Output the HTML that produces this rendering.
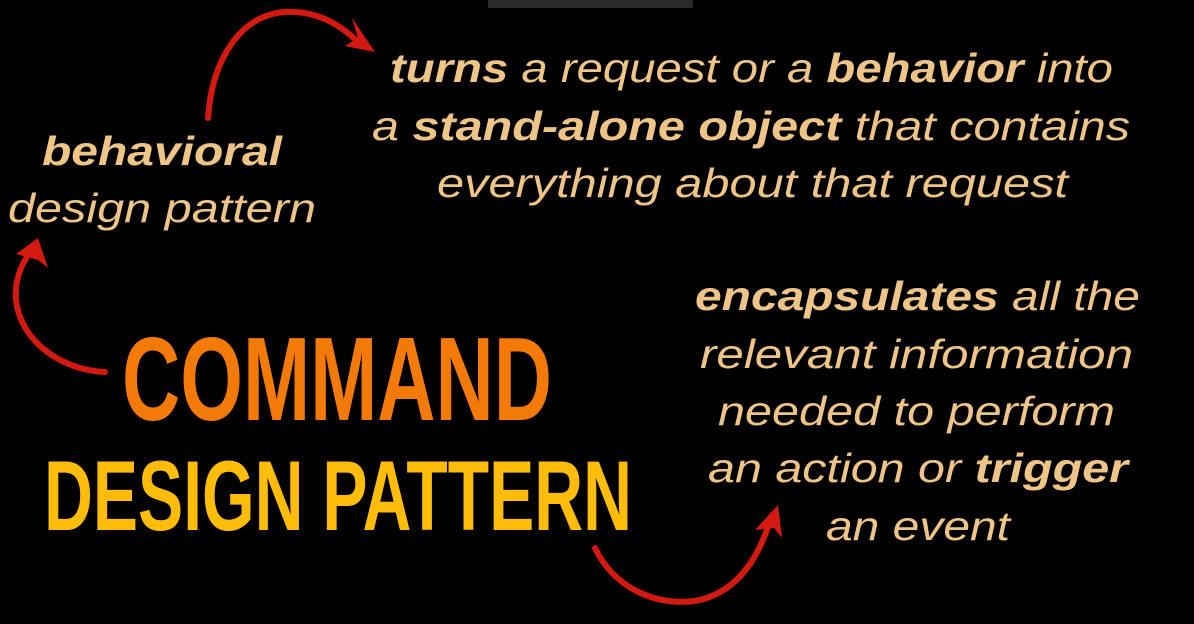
<!DOCTYPE html>
<html><head><meta charset="utf-8"><style>
html,body{margin:0;padding:0;background:#000;width:1194px;height:624px;overflow:hidden}
svg{display:block}
.t{font-family:"Liberation Sans",sans-serif;font-style:italic;font-size:41px;fill:#efc487;font-weight:300}
.b{font-weight:700}
.h{font-family:"Liberation Sans Narrow","Liberation Sans",sans-serif;font-weight:700}
</style></head><body>
<svg width="1194" height="624" viewBox="0 0 1194 624">
<rect width="1194" height="624" fill="#000"/>
<rect x="488" y="0" width="205" height="8" fill="#2a2a2a"/>
<g class="t">
<text x="390" y="82" textLength="723" lengthAdjust="spacingAndGlyphs"><tspan class="b">turns</tspan> a request or a <tspan class="b">behavior</tspan> into</text>
<text x="372" y="140" textLength="758" lengthAdjust="spacingAndGlyphs">a <tspan class="b">stand-alone object</tspan> that contains</text>
<text x="437" y="197" textLength="631" lengthAdjust="spacingAndGlyphs">everything about that request</text>
<text x="42" y="165" textLength="240" lengthAdjust="spacingAndGlyphs" class="b">behavioral</text>
<text x="8" y="222" textLength="308" lengthAdjust="spacingAndGlyphs">design pattern</text>
<text x="695" y="310" textLength="445" lengthAdjust="spacingAndGlyphs"><tspan class="b">encapsulates</tspan> all the</text>
<text x="700" y="368" textLength="433" lengthAdjust="spacingAndGlyphs">relevant information</text>
<text x="718" y="425" textLength="397" lengthAdjust="spacingAndGlyphs">needed to perform</text>
<text x="708" y="482" textLength="420" lengthAdjust="spacingAndGlyphs">an action or <tspan class="b">trigger</tspan></text>
<text x="826" y="540" textLength="184" lengthAdjust="spacingAndGlyphs">an event</text>
</g>
<text class="h" x="122" y="420" font-size="119" fill="#f47a08" textLength="430" lengthAdjust="spacingAndGlyphs">COMMAND</text>
<text class="h" x="44" y="530" font-size="99" fill="#ffbd0a" textLength="588" lengthAdjust="spacingAndGlyphs">DESIGN PATTERN</text>
<g fill="none" stroke="#d41a10" stroke-linecap="round">
<path d="M208 118 C212 60 240 15 285 12 C320 10 345 28 362 46" stroke-width="6"/>
<path d="M105 372 C60 370 20 340 16 300 C14 275 25 258 35 246" stroke-width="6"/>
<path d="M595 548 C615 590 660 608 700 600 C740 590 760 555 772 515" stroke-width="6"/>
</g>
<g fill="#d41a10">
<polygon points="375,52 345,46 358,38 352,18"/>
<polygon points="38,238 48,268 38,260 16,254"/>
<polygon points="778,505 782,538 774,528 755,530"/>
</g>
</svg>
</body></html>
